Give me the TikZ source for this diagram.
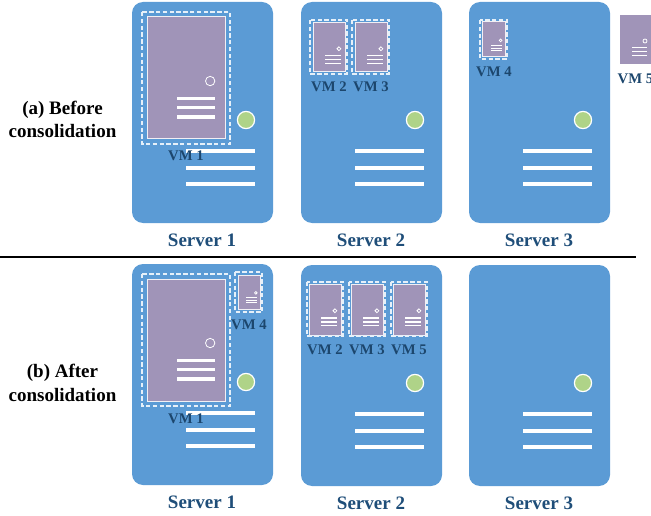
\documentclass[tikz,border=0pt]{standalone}
\usepackage{fontspec}
\setmainfont{Liberation Serif}
\definecolor{srvblue}{HTML}{5B9BD5}
\definecolor{ledgreen}{HTML}{AFD388}
\definecolor{vmpurple}{HTML}{A094B8}
\definecolor{lblblue}{HTML}{1F4E79}
\tikzset{
  serverbox/.style={fill=srvblue,draw=none,rounded corners=11pt},
  ledlight/.style={fill=ledgreen,draw=white,line width=1.2pt},
  slotline/.style={draw=white,line width=3.4pt},
  vmbody/.style={fill=vmpurple,draw=white!85!vmpurple,line width=1pt},
  vmframe/.style={draw=white!85!srvblue,line width=1.4pt,dash pattern=on 4.4pt off 2.4pt},
  vmlabel/.style={text=lblblue!90!black,inner sep=0pt,font=\bfseries\fontsize{14.7}{16}\selectfont},
  srvlabel/.style={text=lblblue,inner sep=0pt,font=\bfseries\fontsize{19}{21}\selectfont},
  rowlabel/.style={text=black,inner sep=0pt,align=center,font=\bfseries\fontsize{19}{23.5}\selectfont},
  rulebar/.style={draw=black,line width=1.6pt}
}
% server: x, y (top-left), label node name, caption
\newcommand{\srvr}[4]{%
  \begin{scope}[shift={(#1,#2)}]
    \fill[serverbox] (0,0) rectangle (141,221);
    \draw[ledlight] (114,118) circle (8.6);
    \draw[slotline] (54,149) -- (123,149);
    \draw[slotline] (54,166) -- (123,166);
    \draw[slotline] (54,182) -- (123,182);
    \node[srvlabel] (#3) at (70,238) {#4};
  \end{scope}}
% vm: x0,y0,x1,y1 of body
\newcommand{\vmbox}[4]{%
  \pgfmathsetmacro{\vmw}{#3-#1}\pgfmathsetmacro{\vmh}{#4-#2}%
  \pgfmathsetmacro{\vmlw}{max(0.8,\vmw*0.04)}%
  \pgfmathsetmacro{\vmrad}{\vmw*0.06}%
  \draw[vmbody] (#1,#2) rectangle (#3,#4);
  \draw[white,line width=0.8pt] ({#1+\vmw*0.81},{#2+\vmh*0.525}) circle (\vmrad);
  \draw[white,line width=\vmlw pt] ({#1+\vmw*0.385},{#2+\vmh*0.665}) -- ({#1+\vmw*0.87},{#2+\vmh*0.665});
  \draw[white,line width=\vmlw pt] ({#1+\vmw*0.385},{#2+\vmh*0.745}) -- ({#1+\vmw*0.87},{#2+\vmh*0.745});
  \draw[white,line width=\vmlw pt] ({#1+\vmw*0.385},{#2+\vmh*0.82}) -- ({#1+\vmw*0.87},{#2+\vmh*0.82});
}
\begin{document}
\begin{tikzpicture}[x=1pt,y=-1pt]
\useasboundingbox (0,0) rectangle (651,516);
\clip (0,0) rectangle (651,516);
% upper row
\srvr{132}{2}{s1a}{Server 1}
\srvr{301}{2}{s2a}{Server 2}
\srvr{469}{2}{s3a}{Server 3}
\vmbox{147}{17}{225}{139}
\draw[vmframe] (142,12) rectangle (230,144);
\node[vmlabel] (vm1a) at (186,156) {VM 1};
\vmbox{313}{23}{345}{72}
\draw[vmframe] (310,20) rectangle (347,74);
\node[vmlabel] (vm2a) at (329,87) {VM 2};
\vmbox{355}{23}{387}{72}
\draw[vmframe] (352,20) rectangle (389,74);
\node[vmlabel] (vm3a) at (371,87) {VM 3};
\vmbox{482}{22}{505}{57}
\draw[vmframe] (480,20) rectangle (507,59);
\node[vmlabel] (vm4a) at (494,72) {VM 4};
\fill[vmpurple] (620,15) rectangle (652,64);
\draw[white,line width=0.8pt] (645,41) circle (2);
\draw[white,line width=1pt] (632,48) -- (647,48);
\draw[white,line width=1pt] (632,52) -- (647,52);
\draw[white,line width=1pt] (632,56) -- (647,56);
\node[vmlabel,anchor=west] (vm5a) at (617.5,79) {VM 5};
\node[rowlabel] (before) at (62.5,119.5) {(a) Before\\consolidation};
% divider
\coordinate (ruleL) at (0,257);
\coordinate (ruleR) at (636,257);
\draw[rulebar] (ruleL) -- (ruleR);
% lower row
\srvr{132}{264}{s1b}{Server 1}
\srvr{301}{265}{s2b}{Server 2}
\srvr{469}{265}{s3b}{Server 3}
\vmbox{147}{279}{225}{401}
\draw[vmframe] (142,274) rectangle (230,406);
\node[vmlabel] (vm1b) at (186,419) {VM 1};
\vmbox{238}{275}{260}{309}
\draw[vmframe] (235,272) rectangle (262,312);
\node[vmlabel] (vm4b) at (249,325) {VM 4};
\vmbox{309}{284}{341}{335}
\draw[vmframe] (307,282) rectangle (343,336);
\node[vmlabel] (vm2b) at (325,350) {VM 2};
\vmbox{351}{284}{383}{335}
\draw[vmframe] (349,282) rectangle (385,336);
\node[vmlabel] (vm3b) at (367,350) {VM 3};
\vmbox{393}{284}{425}{335}
\draw[vmframe] (391,282) rectangle (427,336);
\node[vmlabel] (vm5b) at (409,350) {VM 5};
\node[rowlabel] (after) at (62.5,383) {(b) After\\consolidation};
\end{tikzpicture}
\end{document}
